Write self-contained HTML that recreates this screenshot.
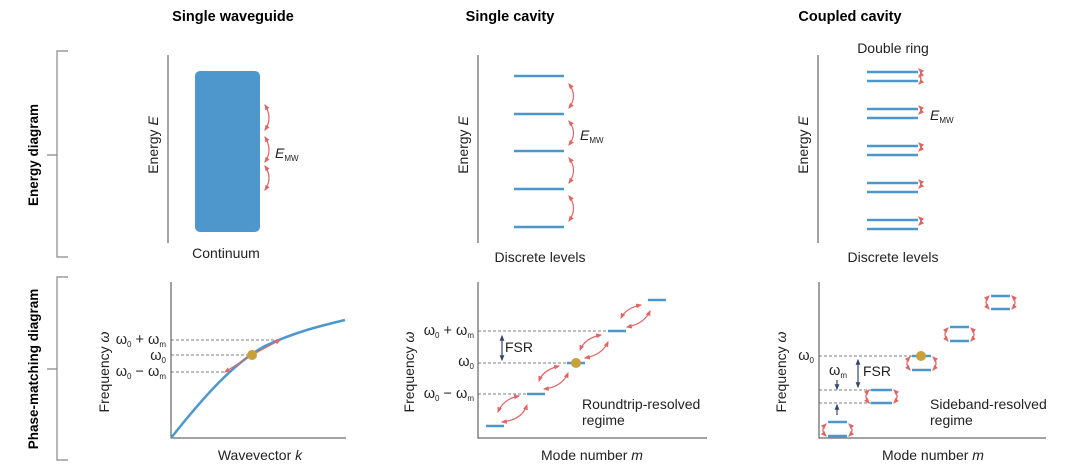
<!DOCTYPE html>
<html><head><meta charset="utf-8"><style>
html,body{margin:0;padding:0;background:#fff;}
svg{display:block;font-family:"Liberation Sans",sans-serif;}
</style></head><body>
<svg width="1080" height="474" viewBox="0 0 1080 474" xmlns="http://www.w3.org/2000/svg">
<defs>
<marker id="ah" viewBox="0 0 10 10" refX="8" refY="5" markerWidth="5" markerHeight="5" orient="auto-start-reverse"><path d="M0,1 L10,5 L0,9 z" fill="#e06565"/></marker>
<marker id="bh" viewBox="0 0 10 10" refX="8" refY="5" markerWidth="5" markerHeight="5" orient="auto-start-reverse"><path d="M0,1 L10,5 L0,9 z" fill="#34466b"/></marker>
</defs>
<g fill="none" stroke="#888" stroke-width="1.2">
<path d="M68,51 H57 V257 H68 M47,155 H57"/>
<path d="M68,277 H57 V460 H68 M47,369 H57"/>
</g>
<text x="0" y="0" font-size="13.5" font-weight="bold" text-anchor="middle" transform="translate(38,155) rotate(-90)">Energy diagram</text>
<text x="0" y="0" font-size="13.5" font-weight="bold" text-anchor="middle" transform="translate(38,369) rotate(-90)">Phase-matching diagram</text>
<g font-size="14.5" font-weight="bold" text-anchor="middle">
<text x="233" y="21">Single waveguide</text>
<text x="510" y="21">Single cavity</text>
<text x="850" y="21">Coupled cavity</text>
</g>
<g stroke="#444" stroke-width="1" fill="none">
<path d="M168,55 V243"/><path d="M478,55 V243"/><path d="M818,55 V243"/>
<path d="M171,282 V438 H346"/><path d="M478,282 V438 H707"/><path d="M819,282 V438 H1046"/>
</g>
<g font-size="14" fill="#222">
<text transform="translate(158,145) rotate(-90)" text-anchor="middle">Energy <tspan font-style="italic">E</tspan></text>
<text transform="translate(468,145) rotate(-90)" text-anchor="middle">Energy <tspan font-style="italic">E</tspan></text>
<text transform="translate(808,145) rotate(-90)" text-anchor="middle">Energy <tspan font-style="italic">E</tspan></text>
<text transform="translate(109,372) rotate(-90)" text-anchor="middle">Frequency <tspan font-style="italic">ω</tspan></text>
<text transform="translate(414,372) rotate(-90)" text-anchor="middle">Frequency <tspan font-style="italic">ω</tspan></text>
<text transform="translate(786,372) rotate(-90)" text-anchor="middle">Frequency <tspan font-style="italic">ω</tspan></text>
<text x="226" y="258" text-anchor="middle">Continuum</text>
<text x="540" y="262" text-anchor="middle">Discrete levels</text>
<text x="893" y="262" text-anchor="middle">Discrete levels</text>
<text x="893" y="53" text-anchor="middle">Double ring</text>
<text x="260" y="460" text-anchor="middle">Wavevector <tspan font-style="italic">k</tspan></text>
<text x="592" y="460" text-anchor="middle">Mode number <tspan font-style="italic">m</tspan></text>
<text x="933" y="460" text-anchor="middle">Mode number <tspan font-style="italic">m</tspan></text>
<text x="582" y="409">Roundtrip-resolved</text>
<text x="582" y="425">regime</text>
<text x="930" y="409">Sideband-resolved</text>
<text x="930" y="425">regime</text>
<text x="275" y="158" font-style="italic">E<tspan font-size="8" font-style="normal" dy="3">MW</tspan></text>
<text x="580" y="140" font-style="italic">E<tspan font-size="8" font-style="normal" dy="3">MW</tspan></text>
<text x="930" y="120" font-style="italic">E<tspan font-size="8" font-style="normal" dy="3">MW</tspan></text>
<text x="505" y="352">FSR</text>
<text x="863" y="376">FSR</text>
</g>
<g font-size="14.5" fill="#222" text-anchor="end">
<text x="166" y="344">ω<tspan font-size="8" dy="3">0</tspan><tspan dy="-3"> + ω</tspan><tspan font-size="8" dy="3">m</tspan></text>
<text x="166" y="360">ω<tspan font-size="8" dy="3">0</tspan></text>
<text x="166" y="376">ω<tspan font-size="8" dy="3">0</tspan><tspan dy="-3"> − ω</tspan><tspan font-size="8" dy="3">m</tspan></text>
<text x="474" y="335">ω<tspan font-size="8" dy="3">0</tspan><tspan dy="-3"> + ω</tspan><tspan font-size="8" dy="3">m</tspan></text>
<text x="474" y="366">ω<tspan font-size="8" dy="3">0</tspan></text>
<text x="474" y="398">ω<tspan font-size="8" dy="3">0</tspan><tspan dy="-3"> − ω</tspan><tspan font-size="8" dy="3">m</tspan></text>
<text x="814" y="360">ω<tspan font-size="8" dy="3">0</tspan></text>
<text x="847" y="375">ω<tspan font-size="8" dy="3">m</tspan></text>
</g>
<rect x="195" y="71" width="65" height="161" rx="5" fill="#4e97cc"/>
<g stroke="#4e97cc" stroke-width="2.5">
<path d="M514,76 H564 M514,114 H564 M514,151 H564 M514,189 H564 M514,227 H564"/>
<path d="M867,72 H918 M867,81 H918 M867,109 H918 M867,118 H918 M867,146 H918 M867,155 H918 M867,183 H918 M867,192 H918 M867,220 H918 M867,229 H918"/>
<path d="M486,426 H504 M527,394 H545 M567,363 H585 M608,331 H626 M648,300 H666"/>
<path d="M828,422 H847 M828,436 H847 M871,390 H892 M871,403 H892 M912,356 H931 M912,370 H931 M950,327 H969 M950,341 H969 M991,296 H1010 M991,309 H1010"/>
</g>
<g stroke="#555" stroke-width="0.8" stroke-dasharray="3,2" fill="none">
<path d="M171,340 H280 M171,355 H252 M171,372 H225"/>
<path d="M478,331 H608 M478,363 H567 M478,394 H527"/>
<path d="M819,356 H912 M819,390 H871 M819,403 H871"/>
</g>
<path d="M171,438 C205,395 235,362 265,346 C295,332 320,326 345,320" fill="none" stroke="#4e97cc" stroke-width="2.5"/>
<g fill="none" stroke="#e06565" stroke-width="1.2" marker-start="url(#ah)" marker-end="url(#ah)">
<path d="M252,355 L280,340" marker-start="none"/>
<path d="M252,355 L225,372" marker-start="none"/>
<path d="M265,105 Q273,118 265,130"/><path d="M265,137 Q273,150 265,162"/><path d="M265,166 Q273,178 265,190"/>
<path d="M569,84 Q578,96 569,108"/><path d="M569,121 Q578,133 569,145"/><path d="M569,158 Q578,170 569,183"/><path d="M569,196 Q578,208 569,221"/>
<path d="M919,69 Q923,73 919,77"/><path d="M919,75 Q923,80 919,84" marker-start="none"/>
<path d="M919,106 Q923,110 919,114"/><path d="M919,143 Q923,147 919,151"/><path d="M919,180 Q923,184 919,188"/><path d="M919,217 Q923,221 919,225"/>
<path d="M498,412 Q503,399 519,396"/><path d="M502,422 Q522,420 527,405"/>
<path d="M539,381 Q543,370 559,366"/><path d="M544,389 Q562,387 568,373"/>
<path d="M580,350 Q585,338 601,335"/><path d="M585,358 Q602,355 608,342"/>
<path d="M621,318 Q626,308 641,305"/><path d="M627,327 Q644,324 650,311"/>
<path d="M826,436 Q820,430 826,424"/><path d="M849,424 Q855,430 849,436"/>
<path d="M869,403 Q863,396 869,390"/><path d="M894,390 Q900,396 894,403"/>
<path d="M910,370 Q904,363 910,357"/><path d="M933,357 Q939,363 933,370"/>
<path d="M948,341 Q942,334 948,328"/><path d="M971,328 Q977,334 971,341"/>
<path d="M989,309 Q983,302 989,296"/><path d="M1012,296 Q1018,302 1012,309"/>
</g>
<g stroke="#34466b" stroke-width="1.2" fill="none">
<path d="M502,336 V360" marker-start="url(#bh)" marker-end="url(#bh)"/>
<path d="M858,360 V387" marker-start="url(#bh)" marker-end="url(#bh)"/>
<path d="M837,380 V389" marker-end="url(#bh)"/>
<path d="M837,415 V405" marker-end="url(#bh)"/>
</g>
<circle cx="252" cy="355" r="5" fill="#c9a13a"/>
<circle cx="576" cy="363" r="5" fill="#c9a13a"/>
<circle cx="921" cy="356" r="5" fill="#c9a13a"/>
</svg>
</body></html>
